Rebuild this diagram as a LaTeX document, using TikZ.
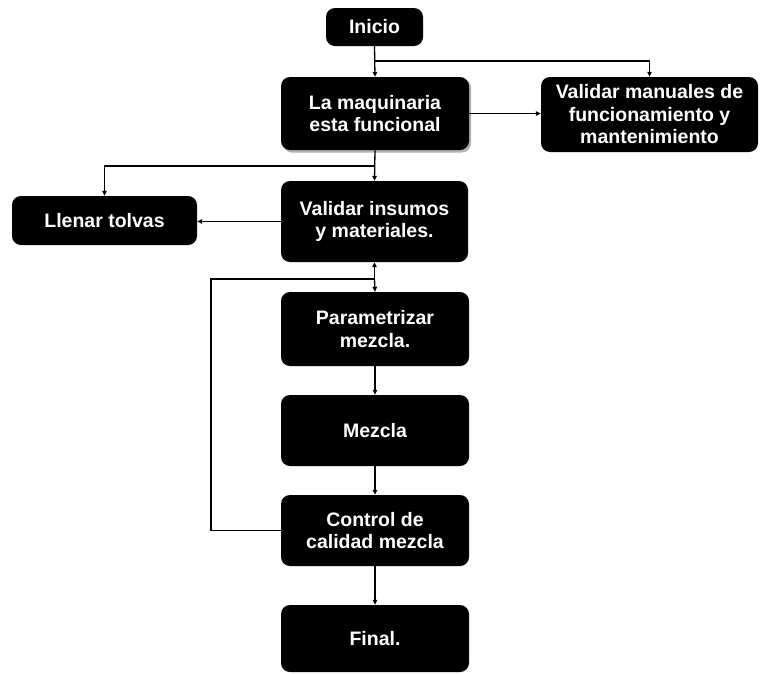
\documentclass[tikz,border=0pt]{standalone}
\usepackage{fontspec}
\setmainfont{Liberation Sans}
\usetikzlibrary{arrows.meta,calc}
\begin{document}
\begin{tikzpicture}[x=1pt,y=-1pt,
  stepbox/.style={fill=black,rounded corners=9pt,inner sep=0pt,
    text=white,font=\fontsize{19.5}{22.5}\selectfont\bfseries,align=center},
  link/.style={line width=1.3pt,-{Triangle[length=5pt,width=4.5pt]}},
  plain/.style={line width=1.3pt}]
\useasboundingbox (0,0) rectangle (760,673);

% process boxes
\node[stepbox,minimum width=97pt,minimum height=38pt] (ini) at (374.5,27) {Inicio};
\fill[black!30,rounded corners=9pt] (283,79) rectangle (471,152.5);
\node[stepbox,minimum width=188pt,minimum height=73pt] (maq) at (375,113.5) {La maquinaria\\esta funcional};
\node[stepbox,minimum width=217pt,minimum height=75pt] (man) at (649.5,114.5) {Validar manuales de\\funcionamiento y\\mantenimiento};
\node[stepbox,minimum width=187pt,minimum height=81pt] (ins) at (374.5,221.5) {Validar insumos\\y materiales.};
\node[stepbox,minimum width=185pt,minimum height=49pt] (lle) at (104.5,220.5) {Llenar tolvas};
\node[stepbox,minimum width=188pt,minimum height=74pt] (par) at (375,329) {Parametrizar\\mezcla.};
\node[stepbox,minimum width=188pt,minimum height=71pt] (mez) at (375,430.5) {Mezcla};
\node[stepbox,minimum width=188pt,minimum height=71pt] (ctl) at (375,530.5) {Control de\\calidad mezcla};
\node[stepbox,minimum width=188pt,minimum height=67pt] (fin) at (375,638.5) {Final.};

% branch points
\coordinate (b1) at (374.5,61);
\coordinate (b2) at (374.5,166);
\coordinate (b3) at (374.5,279);
\coordinate (lp) at (211,279);

% connectors
\draw[link] (ini.south) -- (maq.north);
\draw[link] (b1) -| (man.north);
\draw[link] (maq.east) -- (maq.east -| man.west);
\draw[link] (maq.south) -- (ins.north);
\draw[link] (b2) -| (lle.north);
\draw[link] (ins.west) -- (ins.west -| lle.east);
\draw[link] (b3) -- (ins.south);
\draw[link] (b3) -- (par.north);
\draw[link] (par.south) -- (mez.north);
\draw[link] (mez.south) -- (ctl.north);
\draw[link] (ctl.south) -- (fin.north);
\draw[plain] (ctl.west) -| (lp) -- (b3);
\end{tikzpicture}
\end{document}
